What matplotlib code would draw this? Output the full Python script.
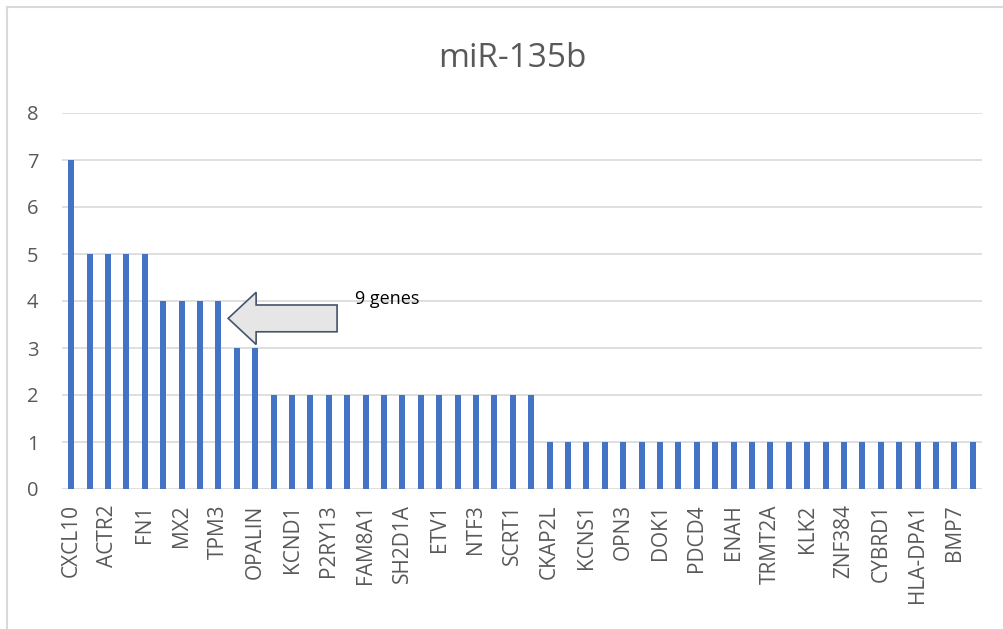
import numpy as np
import matplotlib
matplotlib.use("Agg")
import matplotlib.pyplot as plt
from matplotlib.patches import FancyArrow
from matplotlib.lines import Line2D

plt.rcParams['font.family'] = ['Open Sans', 'DejaVu Sans']

# target counts per gene, sorted; only every second gene name fits on the axis
counts = [7, 5, 5, 5, 5, 4, 4, 4, 4, 3, 3] + [2] * 15 + [1] * 24
shown_genes = ['CXCL10', 'ACTR2', 'FN1', 'MX2', 'TPM3', 'OPALIN', 'KCND1',
               'P2RY13', 'FAM8A1', 'SH2D1A', 'ETV1', 'NTF3', 'SCRT1', 'CKAP2L',
               'KCNS1', 'OPN3', 'DOK1', 'PDCD4', 'ENAH', 'TRMT2A', 'KLK2',
               'ZNF384', 'CYBRD1', 'HLA-DPA1', 'BMP7']
title = 'miR-135b'
note = '9 genes'

W, H = 1004, 629
fig = plt.figure(figsize=(W / 100, H / 100), dpi=100)
ax = fig.add_axes([62 / W, 1 - 489 / H, (982 - 62) / W, (489 - 113) / H])

x = np.arange(len(counts))
ax.bar(x, counts, width=0.32, color='#4472c4', zorder=3)

ax.set_xlim(-0.5, len(counts) - 0.5)
ax.set_ylim(0, 8)
ax.set_yticks(range(0, 9))
ax.set_xticks(x[::2])
ax.set_xticklabels(shown_genes, rotation=90, fontsize=15, color='#595959')
ax.tick_params(axis='y', length=0, pad=17, labelsize=14.5, labelcolor='#595959')
ax.tick_params(axis='x', length=0, pad=11)
ax.grid(axis='y', color='#d9d9d9', linewidth=1.2, zorder=0)
for s in ax.spines.values():
    s.set_visible(False)

# block arrow pointing at the 4-count group
arr = FancyArrow(14.45, 3.63, -5.92, 0, width=0.57, head_width=1.11,
                 head_length=1.52, length_includes_head=True,
                 facecolor='#e7e6e6', edgecolor='#44546a', linewidth=1.2,
                 zorder=4)
ax.add_patch(arr)
ax.text(15.45, 4.05, note, fontsize=13, color='black', va='center', ha='left',
        zorder=5)

fig.text(512 / W, 1 - 67 / H, title, fontsize=24, color='#595959',
         ha='center', va='baseline')

# chart frame (left and top edges)
fig.add_artist(Line2D([7 / W, 7 / W], [0, 1 - 7 / H], color='#d9d9d9',
                      linewidth=1.5, transform=fig.transFigure))
fig.add_artist(Line2D([7 / W, 1], [1 - 7 / H, 1 - 7 / H], color='#d9d9d9',
                      linewidth=1.5, transform=fig.transFigure))

fig.savefig('out.png', dpi=100)
